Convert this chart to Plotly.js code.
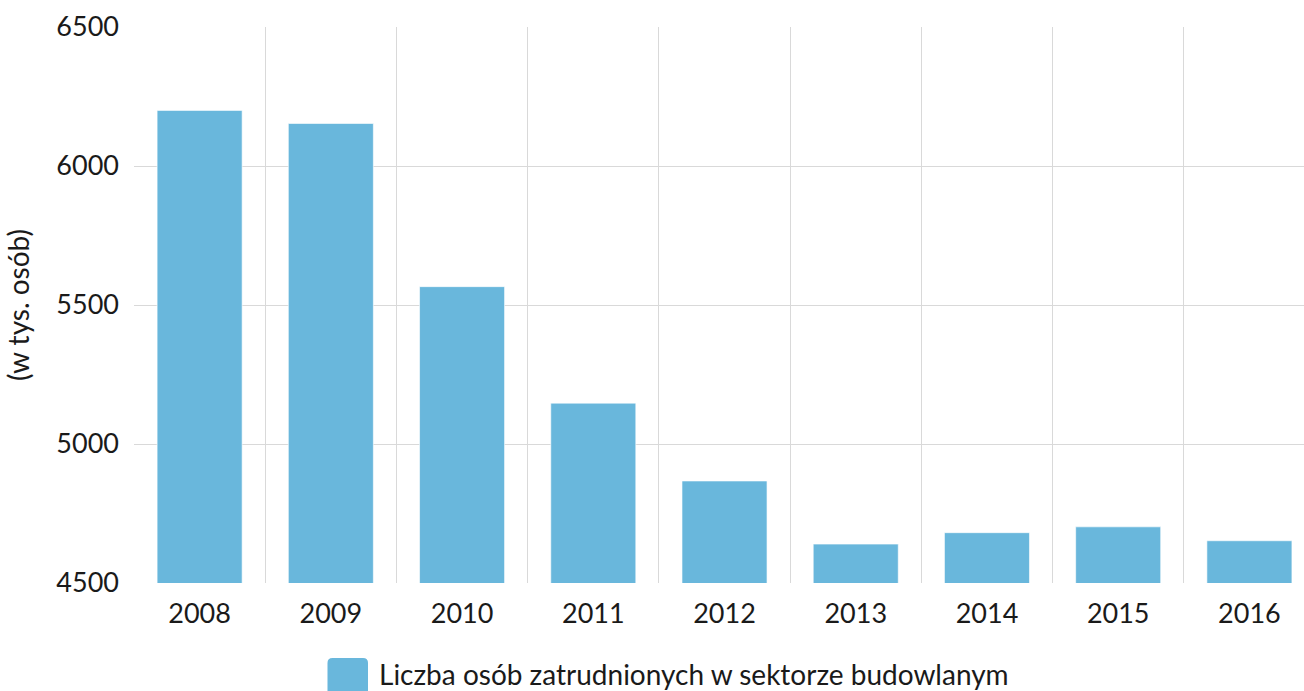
<!DOCTYPE html>
<html>
<head>
<meta charset="utf-8">
<script src="https://cdn.plot.ly/plotly-3.0.1.min.js"></script>
<style>
html,body{margin:0;padding:0;background:#fff;}
#chart{width:1304px;height:691px;}
</style>
</head>
<body>
<div id="chart"></div>
<script>
const years = ['2008','2009','2010','2011','2012','2013','2014','2015','2016'];
const employed = [6200, 6153, 5566, 5147, 4867, 4640, 4681, 4702, 4652];
const seriesName = 'Liczba osób zatrudnionych w sektorze budowlanym';
const yTitle = '(w tys. osób)';
const barColor = '#69b7dc';
const font = 'Lato, "Open Sans", sans-serif';

const trace = {
  type: 'bar',
  x: years,
  y: employed,
  name: seriesName,
  marker: {color: barColor, line: {color: 'rgba(255,255,255,0.6)', width: 1}},
  showlegend: false,
  hoverinfo: 'x+y'
};

function roundRect(){
  const W = 1170, H = 556.5, x0 = 134, yb = 583.5;
  const px = v => ((v - x0)/W).toFixed(5);
  const py = v => (-(v - yb)/H).toFixed(5);
  const L = 327.5, R = 368, T = 658.5, B = 699, r = 5;
  return 'M' + px(L+r) + ',' + py(T) +
    ' L' + px(R-r) + ',' + py(T) +
    ' Q' + px(R) + ',' + py(T) + ' ' + px(R) + ',' + py(T+r) +
    ' L' + px(R) + ',' + py(B-r) +
    ' Q' + px(R) + ',' + py(B) + ' ' + px(R-r) + ',' + py(B) +
    ' L' + px(L+r) + ',' + py(B) +
    ' Q' + px(L) + ',' + py(B) + ' ' + px(L) + ',' + py(B-r) +
    ' L' + px(L) + ',' + py(T+r) +
    ' Q' + px(L) + ',' + py(T) + ' ' + px(L+r) + ',' + py(T) + ' Z';
}

const layout = {
  width: 1304, height: 691,
  margin: {l: 134, r: 0, t: 27, b: 108},
  paper_bgcolor: '#fff', plot_bgcolor: '#fff',
  font: {family: font, color: '#1a1a1a', size: 27},
  bargap: 0.352,
  xaxis: {
    type: 'category',
    range: [-0.5, 8.416],
    tickson: 'boundaries',
    showgrid: true, gridcolor: '#d9d9d9', gridwidth: 1,
    ticks: '', showline: false, zeroline: false,
    tickfont: {size: 27, family: font, color: '#1a1a1a'},
    ticklabelstandoff: 12
  },
  yaxis: {
    range: [4500, 6500], dtick: 500, tick0: 4500,
    showgrid: true, gridcolor: '#d9d9d9', gridwidth: 1,
    zeroline: false, showline: false, ticks: '',
    tickfont: {size: 27, family: font, color: '#1a1a1a'},
    ticklabelstandoff: 14,
    title: {text: yTitle, font: {size: 28, family: font, color: '#1a1a1a'}, standoff: 18}
  },
  shapes: [{
    type: 'path', xref: 'paper', yref: 'paper', layer: 'above',
    path: roundRect(),
    fillcolor: barColor, line: {width: 0}
  }],
  annotations: [{
    xref: 'paper', yref: 'paper', x: (377-134)/1170, y: -(675-583.5)/556.5,
    xanchor: 'left', yanchor: 'middle', showarrow: false,
    text: seriesName, font: {size: 28, family: font, color: '#1a1a1a'}
  }]
};

Plotly.newPlot('chart', [trace], layout, {displayModeBar: false, responsive: false});
</script>
</body>
</html>
